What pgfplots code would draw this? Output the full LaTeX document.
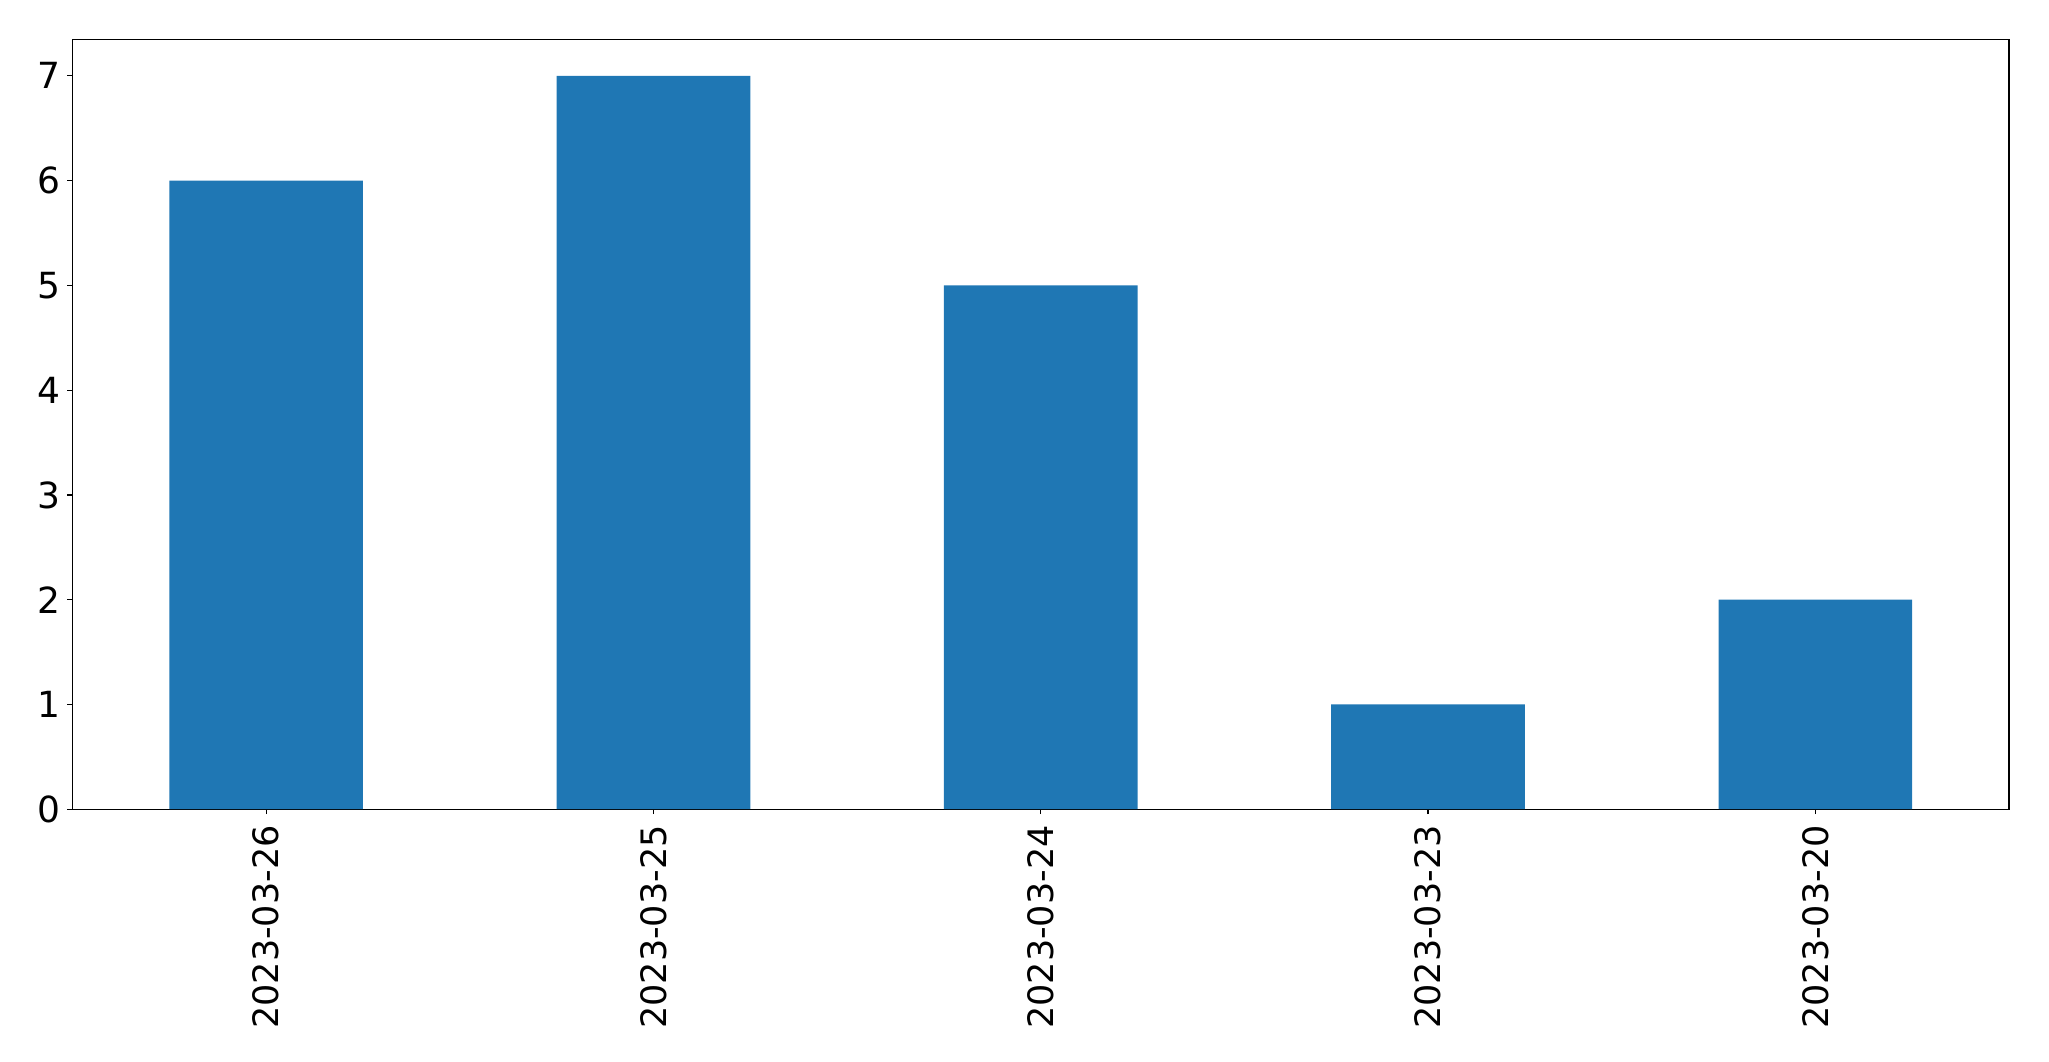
\documentclass[border=0pt]{standalone}
\usepackage{pgfplots}
\pgfplotsset{compat=1.18}
\usepackage{fontspec}
\setmainfont{DejaVu Sans}
\definecolor{mplblue}{HTML}{1F77B4}
\begin{document}
\begin{tikzpicture}
\path[use as bounding box] (-36.25pt,-125.9pt) rectangle (988.25pt,404.6pt);
\begin{axis}[
  at={(0,0)}, anchor=south west,
  scale only axis,
  width=968.25pt, height=385pt,
  xmin=-0.5, xmax=4.5, ymin=0, ymax=7.35,
  xtick={0,1,2,3,4},
  xticklabels={2023-03-26,2023-03-25,2023-03-24,2023-03-23,2023-03-20},
  ytick={0,1,2,3,4,5,6,7},
  xticklabel style={rotate=90, anchor=east, font=\fontsize{17.5}{20}\selectfont},
  yticklabel style={font=\fontsize{18}{20}\selectfont},
  xticklabel shift=2pt,
  /pgf/number format/assume math mode=true,
  tick align=outside, tick pos=left,
  major tick length=2.5pt,
  tick style={black, line width=0.6pt},
  axis line style={line width=0.6pt},
]
\addplot[ybar, bar width=0.5, fill=mplblue, draw=none, bar shift=0pt] coordinates {
(0,6) (1,7) (2,5) (3,1) (4,2)
};
\end{axis}
\end{tikzpicture}
\end{document}
